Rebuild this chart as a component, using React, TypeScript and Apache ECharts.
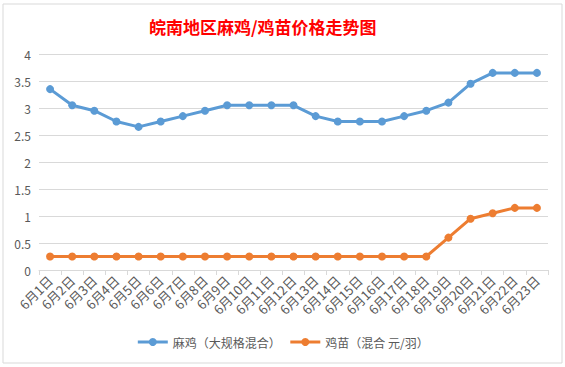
import React, { useEffect, useRef } from "react";
import * as echarts from "echarts";

const categories = [
  "6月1日", "6月2日", "6月3日", "6月4日", "6月5日", "6月6日", "6月7日", "6月8日",
  "6月9日", "6月10日", "6月11日", "6月12日", "6月13日", "6月14日", "6月15日", "6月16日",
  "6月17日", "6月18日", "6月19日", "6月20日", "6月21日", "6月22日", "6月23日",
];
const majiValues = [
  3.35, 3.05, 2.95, 2.75, 2.65, 2.75, 2.85, 2.95, 3.05, 3.05, 3.05, 3.05,
  2.85, 2.75, 2.75, 2.75, 2.85, 2.95, 3.1, 3.45, 3.65, 3.65, 3.65,
];
const jimiaoValues = [
  0.25, 0.25, 0.25, 0.25, 0.25, 0.25, 0.25, 0.25, 0.25, 0.25, 0.25, 0.25,
  0.25, 0.25, 0.25, 0.25, 0.25, 0.25, 0.6, 0.95, 1.05, 1.15, 1.15,
];
const seriesNames = ["麻鸡（大规格混合）", "鸡苗（混合 元/羽）"];
const titleText = "皖南地区麻鸡/鸡苗价格走势图";

export default function App() {
  const ref = useRef<HTMLDivElement>(null);
  useEffect(() => {
    if (!ref.current) return;
    const chart = echarts.init(ref.current, undefined, { renderer: "svg" });
    const font = "'Microsoft YaHei', 'Noto Sans CJK SC', sans-serif";
    chart.setOption({
      animation: false,
      backgroundColor: "#ffffff",
      textStyle: { fontFamily: font },
      title: {
        text: titleText,
        left: 144,
        top: 13,
        textStyle: { color: "#ff0000", fontSize: 17, fontWeight: "bold", fontFamily: font },
      },
      graphic: [
        {
          type: "rect",
          shape: { x: 3, y: 4, width: 559, height: 359 },
          style: { fill: "none", stroke: "#d9d9d9", lineWidth: 1 },
          silent: true,
        },
      ],
      legend: {
        bottom: 14,
        left: "center",
        itemWidth: 30,
        itemHeight: 10,
        itemGap: 8,
        lineStyle: { width: 3 },
        textStyle: { color: "#595959", fontSize: 12, fontFamily: font },
        data: seriesNames,
      },
      grid: { left: 39, right: 17, top: 54, bottom: 97, containLabel: false },
      xAxis: {
        type: "category",
        data: categories,
        boundaryGap: true,
        axisLine: { lineStyle: { color: "#d9d9d9" } },
        axisTick: { show: true, length: 5, lineStyle: { color: "#d9d9d9" } },
        axisLabel: { rotate: 45, interval: 0, color: "#595959", fontSize: 13, margin: 8 },
      },
      yAxis: {
        type: "value",
        min: 0,
        max: 4,
        interval: 0.5,
        axisLine: { show: false },
        axisTick: { show: false },
        splitLine: { lineStyle: { color: "#d9d9d9" } },
        axisLabel: { color: "#595959", fontSize: 12, margin: 8 },
      },
      series: [
        {
          name: seriesNames[0],
          type: "line",
          data: majiValues,
          symbol: "circle",
          symbolSize: 8,
          lineStyle: { width: 3, color: "#5b9bd5" },
          itemStyle: { color: "#5b9bd5" },
        },
        {
          name: seriesNames[1],
          type: "line",
          data: jimiaoValues,
          symbol: "circle",
          symbolSize: 8,
          lineStyle: { width: 3, color: "#ed7d31" },
          itemStyle: { color: "#ed7d31" },
        },
      ],
    });
    return () => chart.dispose();
  }, []);
  return (
    <div
      ref={ref}
      style={{ position: "fixed", left: 0, top: 0, width: 565, height: 367 }}
    />
  );
}
